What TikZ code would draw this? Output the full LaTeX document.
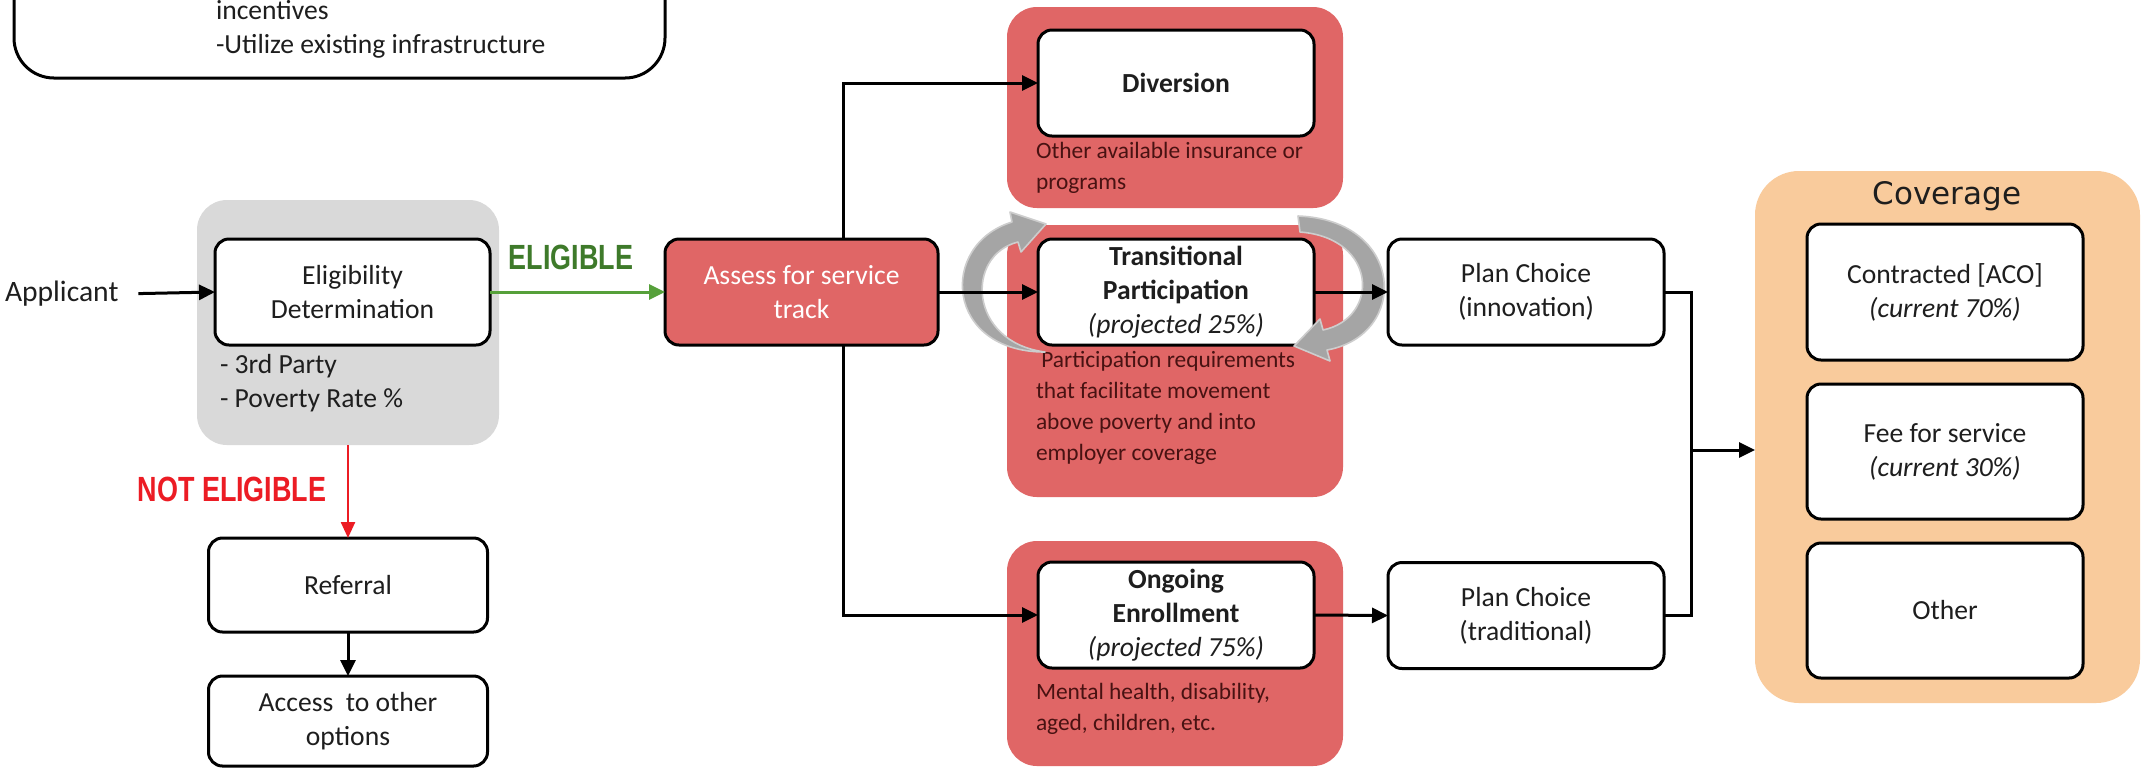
\documentclass[tikz,border=0pt]{standalone}
\usepackage{fontspec}
\usepackage{graphicx}
\setmainfont{Carlito}
\newfontfamily\covfont{DejaVu Sans}
\newfontfamily\labfont{Liberation Sans}
\usetikzlibrary{arrows.meta}
\definecolor{boxred}{RGB}{224,102,102}
\definecolor{grpgray}{RGB}{217,217,217}
\definecolor{covorange}{RGB}{249,203,156}
\definecolor{eliggreen}{RGB}{62,122,42}
\definecolor{arrgreen}{RGB}{86,160,58}
\definecolor{noelred}{RGB}{236,28,36}
\definecolor{subtxt}{RGB}{72,18,18}
\definecolor{txt}{RGB}{30,30,30}
\definecolor{cycgray}{RGB}{165,165,165}
\definecolor{cycedge}{RGB}{205,205,205}
\newcommand\mainsz{\fontsize{13.8pt}{17pt}\selectfont}
\newcommand\subsz{\fontsize{11.7pt}{15.6pt}\selectfont}
\begin{document}
\begin{tikzpicture}[x=0.5pt,y=-0.5pt,
  every node/.style={inner sep=0pt, outer sep=0pt, text=txt},
  wbox/.style={draw=black, line width=1.5pt, rounded corners=7pt, fill=white, align=center, font=\mainsz},
  grp/.style={rounded corners=15pt, draw=none},
  subtext/.style={anchor=west, align=left, font=\subsz, text=subtxt},
  conn/.style={draw=black, line width=1.5pt},
  arr/.style={conn, -{Triangle[length=8pt,width=7.5pt]}},
  cyc/.style={fill=cycgray, draw=cycedge, line width=0.8pt, line join=round},
  biglab/.style={font=\labfont\bfseries\fontsize{17.5pt}{20pt}\selectfont}
]
\useasboundingbox (0,0) rectangle (2142,768);
\clip (0,0) rectangle (2142,768);
\fill[white] (0,0) rectangle (2142,768);

% top box (cut off)
\node[draw=black, line width=1.5pt, rounded corners=20pt, minimum width=325.5pt, minimum height=89pt] (goals) at (339.5,-11) {};
\node[anchor=west, align=left, font=\mainsz] (goalstext) at (216,29) {incentives\\-Utilize existing infrastructure};

% group backgrounds
\node[grp, fill=grpgray, minimum width=151pt, minimum height=122.5pt] (eliggrp) at (348,322.5) {};
\node[grp, fill=boxred, minimum width=168pt, minimum height=100.5pt] (divgrp) at (1175,107.5) {};
\node[grp, fill=boxred, minimum width=168pt, minimum height=136pt] (transgrp) at (1175,361) {};
\node[grp, fill=boxred, minimum width=168pt, minimum height=112.5pt] (onggrp) at (1175,653.5) {};
\node[grp, rounded corners=22pt, fill=covorange, minimum width=192.5pt, minimum height=266pt] (covgrp) at (1947.5,437) {};

% left part
\node[anchor=west, font=\fontsize{14.8pt}{17pt}\selectfont] (app) at (5,294) {Applicant};
\node[wbox, minimum width=137.5pt, minimum height=53pt] (elig) at (352.5,292) {Eligibility\\Determination};
\node[anchor=west, align=left, font=\mainsz] (eligsub) at (220,383) {- 3rd Party\\- Poverty Rate \%};
\node[biglab, text=eliggreen] (eliglab) at (571,257) {\scalebox{0.77}[1]{ELIGIBLE}};
\node[biglab, text=noelred] (noellab) at (232,489) {\scalebox{0.77}[1]{NOT ELIGIBLE}};
\node[wbox, minimum width=139.5pt, minimum height=47pt] (referral) at (348,585) {Referral};
\node[wbox, minimum width=139.5pt, minimum height=45pt] (access) at (348,721) {Access\ \ to other\\options};

% assess
\node[wbox, fill=boxred, text=white, minimum width=136.5pt, minimum height=53pt] (assess) at (801.5,292) {Assess for service\\track};

% middle column
\node[wbox, minimum width=138pt, minimum height=53pt, font=\mainsz\bfseries] (div) at (1176,83) {Diversion};
\node[subtext] (divsub) at (1036,168) {Other available insurance or\\programs};
\node[wbox, minimum width=138pt, minimum height=53pt] (trans) at (1176,292) {\textbf{Transitional}\\\textbf{Participation}\\\textit{(projected 25\%)}};
\node[subtext] (transsub) at (1036,408) {\ Participation requirements\\that facilitate movement\\above poverty and into\\employer coverage};
\node[wbox, minimum width=138pt, minimum height=53pt] (ong) at (1176,615) {\textbf{Ongoing}\\\textbf{Enrollment}\\\textit{(projected 75\%)}};
\node[subtext] (ongsub) at (1036,708.5) {Mental health, disability,\\aged, children, etc.};

% plan choices
\node[wbox, minimum width=138pt, minimum height=53pt] (planI) at (1526,292) {Plan Choice\\(innovation)};
\node[wbox, minimum width=138pt, minimum height=53pt] (planT) at (1526,615.5) {Plan Choice\\(traditional)};

% coverage
\node[font=\covfont\fontsize{15.5pt}{18pt}\selectfont] (covtitle) at (1947,196) {Coverage};
\node[wbox, minimum width=138pt, minimum height=68pt] (contr) at (1945,292) {Contracted [ACO]\\\textit{(current 70\%)}};
\node[wbox, minimum width=138pt, minimum height=67.5pt] (fee) at (1945,451.5) {Fee for service\\\textit{(current 30\%)}};
\node[wbox, minimum width=138pt, minimum height=67.5pt] (other) at (1945,610.5) {Other};

% cycle arrows around transitional (curved block arrows)
\path[cyc] (1045,352) .. controls (945,352) and (938,245) .. (1012,222)
  -- (1010,212) -- (1046,224) -- (1021,252) -- (1018,242)
  .. controls (965,255) and (968,342) .. (1045,352) -- cycle;
\path[cyc] (1298,216) .. controls (1405,220) and (1410,335) .. (1327,350)
  -- (1330,361) -- (1294,346) -- (1320,319) -- (1323,330)
  .. controls (1380,318) and (1378,238) .. (1300,232) -- cycle;

% connectors
\coordinate (split) at (843,292);
\coordinate (join) at (1691,450);
\draw[arr, shorten <=10pt] (app.east) -- (elig.west);
\draw[conn, draw=arrgreen, -{Triangle[length=8pt,width=7.5pt]}] (elig.east) -- (assess.west);
\draw[conn, draw=noelred, line width=1.2pt, -{Triangle[length=8pt,width=7pt]}] (eliggrp.south) -- (referral.north);
\draw[arr] (referral.south) -- (access.north);
\draw[arr] (split |- assess.north) |- (div.west);
\draw[arr] (split |- assess.south) |- (ong.west);
\draw[arr] (assess.east) -- (trans.west);
\draw[arr] (trans.east) -- (planI.west);
\draw[arr] (ong.east) -- (planT.west);
\draw[conn] (planI.east) -| (join) |- (planT.east);
\draw[arr] (join) -- (join -| covgrp.west);
\end{tikzpicture}
\end{document}
